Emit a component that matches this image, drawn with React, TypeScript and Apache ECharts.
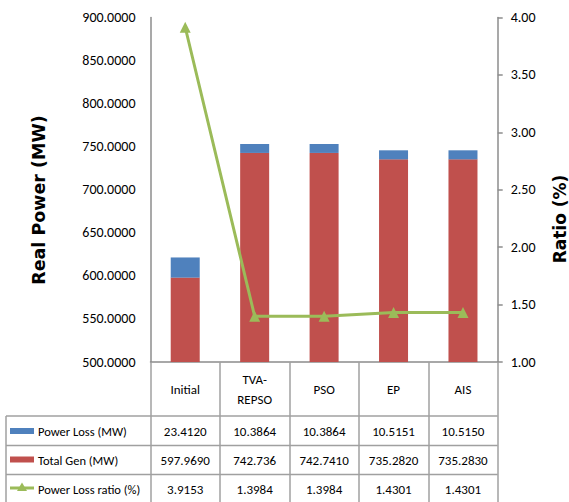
import React, { useEffect, useRef } from "react";
import * as echarts from "echarts";

const categories = ["Initial", "TVA-\nREPSO", "PSO", "EP", "AIS"];
const powerLossText = ["23.4120", "10.3864", "10.3864", "10.5151", "10.5150"];
const totalGenText = ["597.9690", "742.736", "742.7410", "735.2820", "735.2830"];
const lossRatioText = ["3.9153", "1.3984", "1.3984", "1.4301", "1.4301"];
const powerLoss = powerLossText.map(Number);
const totalGen = totalGenText.map(Number);
const lossRatio = lossRatioText.map(Number);
const rowNames = ["Power Loss (MW)", "Total Gen (MW)", "Power Loss ratio (%)"];

const BLUE = "#4F81BD";
const RED = "#C0504D";
const GREEN = "#9BBB59";
const AXIS = "#8C8C8C";
const TABLE = "#A0A0A0";
const FONT = "Carlito, 'Liberation Sans Narrow', 'DejaVu Sans Condensed', 'Open Sans', sans-serif";
const TITLE_FONT = "'DejaVu Sans', Verdana, sans-serif";

export default function App() {
  const ref = useRef<HTMLDivElement>(null);
  useEffect(() => {
    if (!ref.current) return;
    const chart = echarts.init(ref.current, null, { renderer: "svg" });
    chart.setOption({
      animation: false,
      backgroundColor: "#fff",
      textStyle: { fontFamily: FONT },
      grid: { left: 150.5, right: 71.3, top: 17.5, bottom: 140 },
      xAxis: {
        type: "category",
        data: categories,
        axisLine: { show: true, lineStyle: { color: AXIS, width: 1.5 } },
        axisTick: { show: true, length: 142, interval: 0, lineStyle: { color: TABLE, width: 1.5 } },
        axisLabel: {
          interval: 0,
          margin: 27,
          verticalAlign: "middle",
          color: "#000",
          fontSize: 13,
          lineHeight: 20,
          fontFamily: FONT,
        },
      },
      yAxis: [
        {
          type: "value",
          min: 500,
          max: 900,
          interval: 50,
          axisLine: { show: true, lineStyle: { color: AXIS, width: 1.5 } },
          axisTick: { show: false },
          splitLine: { show: false },
          axisLabel: {
            margin: 15,
            color: "#000",
            fontSize: 14,
            fontFamily: FONT,
            formatter: (v: number) => v.toFixed(4),
          },
        },
        {
          type: "value",
          min: 1,
          max: 4,
          interval: 0.5,
          position: "right",
          axisLine: { show: true, lineStyle: { color: AXIS, width: 1.5 } },
          axisTick: { show: true, length: 5, lineStyle: { color: AXIS, width: 1.5 } },
          splitLine: { show: false },
          axisLabel: {
            margin: 13,
            color: "#000",
            fontSize: 14,
            fontFamily: FONT,
            formatter: (v: number) => v.toFixed(2),
          },
        },
      ],
      series: [
        {
          name: "Total Gen (MW)",
          type: "bar",
          stack: "p",
          barWidth: 29,
          data: totalGen,
          itemStyle: { color: RED },
        },
        {
          name: "Power Loss (MW)",
          type: "bar",
          stack: "p",
          barWidth: 29,
          data: powerLoss,
          itemStyle: { color: BLUE },
        },
        {
          name: "Power Loss ratio (%)",
          type: "line",
          yAxisIndex: 1,
          data: lossRatio,
          symbol: "triangle",
          symbolSize: 11,
          lineStyle: { color: GREEN, width: 3 },
          itemStyle: { color: GREEN },
          z: 5,
        },
      ],
    });

    const xs = categories.map((c) => chart.convertToPixel({ xAxisIndex: 0 }, c) as number);
    const leftX = 6;
    const rightX = 497.7;
    const rowLines = [416, 445.5, 474.5];
    const rowCenters = [431, 460, 489];
    const rowValues = [powerLossText, totalGenText, lossRatioText];
    const graphics: any[] = [];
    rowLines.forEach((y) => {
      graphics.push({
        type: "line",
        shape: { x1: leftX, y1: y, x2: rightX, y2: y },
        style: { stroke: TABLE, lineWidth: 1.5 },
      });
    });
    graphics.push({
      type: "line",
      shape: { x1: leftX, y1: rowLines[0], x2: leftX, y2: 502 },
      style: { stroke: TABLE, lineWidth: 1.5 },
    });
    rowValues.forEach((vals, r) => {
      vals.forEach((t, i) => {
        graphics.push({
          type: "text",
          x: xs[i],
          y: rowCenters[r],
          style: { text: t, fontSize: 13, fontFamily: FONT, fill: "#000", align: "center", verticalAlign: "middle" },
        });
      });
      graphics.push({
        type: "text",
        x: 38,
        y: rowCenters[r],
        style: { text: rowNames[r], fontSize: 12.5, fontFamily: FONT, fill: "#000", align: "left", verticalAlign: "middle" },
      });
    });
    graphics.push({ type: "rect", shape: { x: 10, y: 428, width: 24, height: 6 }, style: { fill: BLUE } });
    graphics.push({ type: "rect", shape: { x: 10, y: 456.5, width: 24, height: 6 }, style: { fill: RED } });
    graphics.push({
      type: "line",
      shape: { x1: 10, y1: 488, x2: 34, y2: 488 },
      style: { stroke: GREEN, lineWidth: 3 },
    });
    graphics.push({
      type: "polygon",
      shape: { points: [[22, 482.5], [27, 491], [17, 491]] },
      style: { fill: GREEN },
    });
    graphics.push({
      type: "text",
      x: 39,
      y: 200,
      rotation: Math.PI / 2,
      style: {
        text: "Real Power (MW)",
        fontSize: 17.5,
        fontWeight: "bold",
        fontFamily: TITLE_FONT,
        fill: "#000",
        align: "center",
        verticalAlign: "middle",
      },
    });
    graphics.push({
      type: "text",
      x: 559.5,
      y: 219,
      rotation: Math.PI / 2,
      style: {
        text: "Ratio (%)",
        fontSize: 17,
        fontWeight: "bold",
        fontFamily: TITLE_FONT,
        fill: "#000",
        align: "center",
        verticalAlign: "middle",
      },
    });
    chart.setOption({ graphic: graphics });
    return () => chart.dispose();
  }, []);
  return (
    <div
      ref={ref}
      style={{ position: "fixed", left: 0, top: 0, width: 569, height: 502, background: "#fff" }}
    />
  );
}
